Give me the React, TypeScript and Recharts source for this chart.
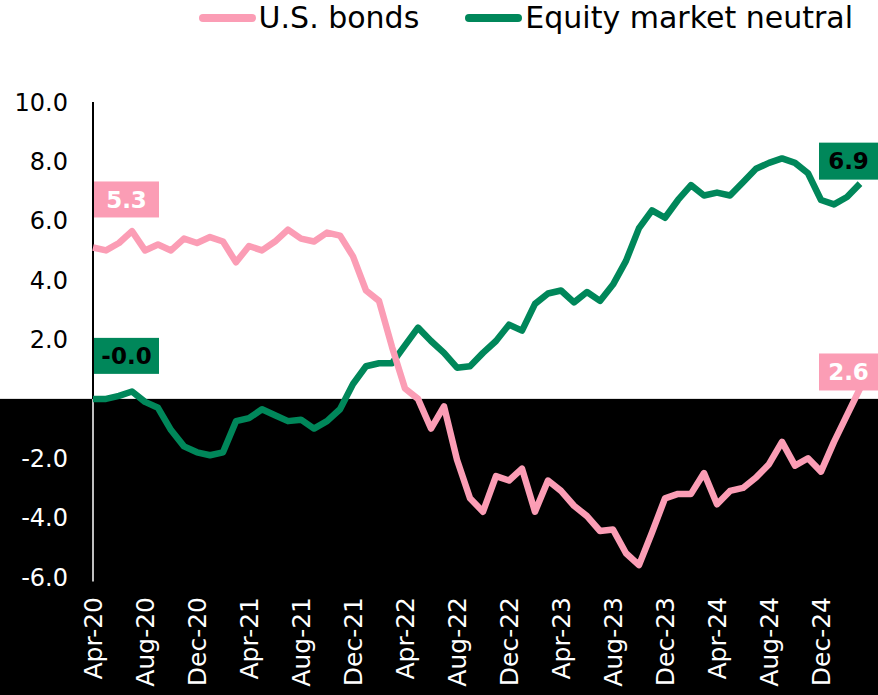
import { LineChart, Line, XAxis, YAxis, Legend, ReferenceArea, ReferenceLine } from 'recharts'

const FONT = '"DejaVu Sans", sans-serif'
const PINK = '#FB9DB5'
const GREEN = '#00875A'
const W = 878
const H = 695

const MONTHS = [
  'Apr-20', 'May-20', 'Jun-20', 'Jul-20', 'Aug-20', 'Sep-20', 'Oct-20', 'Nov-20', 'Dec-20',
  'Jan-21', 'Feb-21', 'Mar-21', 'Apr-21', 'May-21', 'Jun-21', 'Jul-21', 'Aug-21', 'Sep-21', 'Oct-21', 'Nov-21', 'Dec-21',
  'Jan-22', 'Feb-22', 'Mar-22', 'Apr-22', 'May-22', 'Jun-22', 'Jul-22', 'Aug-22', 'Sep-22', 'Oct-22', 'Nov-22', 'Dec-22',
  'Jan-23', 'Feb-23', 'Mar-23', 'Apr-23', 'May-23', 'Jun-23', 'Jul-23', 'Aug-23', 'Sep-23', 'Oct-23', 'Nov-23', 'Dec-23',
  'Jan-24', 'Feb-24', 'Mar-24', 'Apr-24', 'May-24', 'Jun-24', 'Jul-24', 'Aug-24', 'Sep-24', 'Oct-24', 'Nov-24', 'Dec-24',
  'Jan-25', 'Feb-25', 'Mar-25',
]

const US_BONDS = [
  5.1, 5.0, 5.25, 5.65, 5.0, 5.2, 5.0, 5.4, 5.25, 5.45,
  5.3, 4.6, 5.15, 5.0, 5.3, 5.7, 5.4, 5.3, 5.6, 5.5,
  4.8, 3.65, 3.3, 1.75, 0.35, 0.0, -1.0, -0.25, -2.05, -3.35,
  -3.8, -2.6, -2.75, -2.35, -3.8, -2.75, -3.1, -3.6, -3.95, -4.45,
  -4.4, -5.2, -5.6, -4.5, -3.35, -3.2, -3.2, -2.5, -3.55, -3.1,
  -3.0, -2.65, -2.2, -1.45, -2.25, -2.0, -2.45, -1.45, -0.55, 0.35,
]

const EQUITY_MKT_NEUTRAL = [
  0.0, 0.0, 0.1, 0.25, -0.1, -0.3, -1.05, -1.6, -1.8, -1.9,
  -1.8, -0.75, -0.65, -0.35, -0.55, -0.75, -0.7, -1.0, -0.75, -0.35,
  0.5, 1.1, 1.2, 1.2, 1.8, 2.4, 1.95, 1.55, 1.05, 1.1,
  1.55, 1.95, 2.5, 2.3, 3.2, 3.55, 3.65, 3.25, 3.6, 3.3,
  3.85, 4.65, 5.75, 6.35, 6.1, 6.7, 7.2, 6.85, 6.95, 6.85,
  7.3, 7.75, 7.95, 8.1, 7.95, 7.6, 6.7, 6.55, 6.8, 7.25,
]

const Y_TICKS = [-6, -4, -2, 2, 4, 6, 8, 10]

// legend order (left to right)
const LEGEND_ORDER = ['U.S. bonds', 'Equity market neutral']

// annotation boxes at the start and end of each line
const BONDS_TAGS = { start: '5.3', end: '2.6' }
const EMN_TAGS = { start: '-0.0', end: '6.9' }

const data = MONTHS.map((m, i) => ({ month: m, bonds: US_BONDS[i], emn: EQUITY_MKT_NEUTRAL[i] }))

const YTick = ({ x, y, payload }: any) => (
  <text x={x} y={y} dy="0.36em" textAnchor="end" fontSize={24} fontFamily={FONT}
    fill={payload.value < 0 ? '#fff' : '#000'}>
    {payload.value.toFixed(1)}
  </text>
)

const XTick = ({ x, y, payload }: any) => (
  <text x={x} y={y} dy="0.36em" textAnchor="end" fontSize={25} fontFamily={FONT} fill="#fff"
    transform={`rotate(-90, ${x}, ${y})`}>
    {payload.value}
  </text>
)

function makeTag(tags: { start: string; end: string }, fill: string, textFill: string, startDy: number, endDy: number) {
  return (p: any) => {
    const { x, y, index } = p
    if (index !== 0 && index !== data.length - 1) return null
    const isStart = index === 0
    const bw = isStart ? 65 : 59
    const bh = isStart ? 36 : 37
    const bx = isStart ? x + 1 : x - 41
    const by = y + (isStart ? startDy : endDy)
    return (
      <g key={`tag-${index}`}>
        <rect x={bx} y={by} width={bw} height={bh} fill={fill} />
        <text x={bx + bw / 2} y={by + bh / 2} dy="0.36em" textAnchor="middle" fontSize={23}
          fontWeight="bold" fontFamily={FONT} fill={textFill}>
          {isStart ? tags.start : tags.end}
        </text>
      </g>
    )
  }
}

const LegendContent = ({ payload }: any) => {
  const items = [...(payload || [])].sort((a: any, b: any) => LEGEND_ORDER.indexOf(a.value) - LEGEND_ORDER.indexOf(b.value))
  return (
    <div style={{ display: 'flex', justifyContent: 'flex-end', paddingRight: 25, fontFamily: FONT, fontSize: 30, lineHeight: '36px' }}>
      {items.map((item: any, i: number) => (
        <div key={item.value} style={{ display: 'flex', alignItems: 'center', marginLeft: i === 0 ? 0 : 46 }}>
          <span style={{ display: 'inline-block', width: 57, height: 8, borderRadius: 4, background: item.color, marginRight: 3 }} />
          <span style={{ color: '#000' }}>{item.value}</span>
        </div>
      ))}
    </div>
  )
}

export default function App() {
  return (
    <div style={{ position: 'absolute', left: 0, top: 0, width: W, height: H, background: '#fff', overflow: 'hidden' }}>
      <LineChart width={W} height={H} data={data} margin={{ top: 62, right: 18, left: 0, bottom: 0 }}>
        <ReferenceArea y1={-6} y2={0} ifOverflow="visible"
          shape={(p: any) => <rect x={0} y={p.y} width={W} height={H - p.y} fill="#000" />} />
        <XAxis dataKey="month" interval={3} height={118} tickSize={0} tickMargin={20}
          axisLine={false} tickLine={false} tick={<XTick />} />
        <YAxis domain={[-6, 10]} ticks={Y_TICKS} width={93} tickSize={0} tickMargin={25}
          axisLine={false} tickLine={false} tick={<YTick />} />
        <ReferenceLine ifOverflow="visible" segment={[{ x: MONTHS[0], y: 0 }, { x: MONTHS[0], y: 10 }]} stroke="#000" strokeWidth={2} />
        <ReferenceLine ifOverflow="visible" segment={[{ x: MONTHS[0], y: -6.15 }, { x: MONTHS[0], y: 0 }]} stroke="#fff" strokeWidth={1.5} />
        <Legend verticalAlign="top" height={40} wrapperStyle={{ top: 0, left: 0, width: W }} content={<LegendContent />} />
        <Line type="linear" dataKey="emn" name="Equity market neutral" stroke={GREEN} strokeWidth={6.5} strokeLinejoin="round"
          dot={false} activeDot={false} isAnimationActive={false}
          label={makeTag(EMN_TAGS, GREEN, '#000', -61, -41)} />
        <Line type="linear" dataKey="bonds" name="U.S. bonds" stroke={PINK} strokeWidth={6.5} strokeLinejoin="round"
          dot={false} activeDot={false} isAnimationActive={false}
          label={makeTag(BONDS_TAGS, PINK, '#fff', -66, -35)} />
      </LineChart>
    </div>
  )
}
